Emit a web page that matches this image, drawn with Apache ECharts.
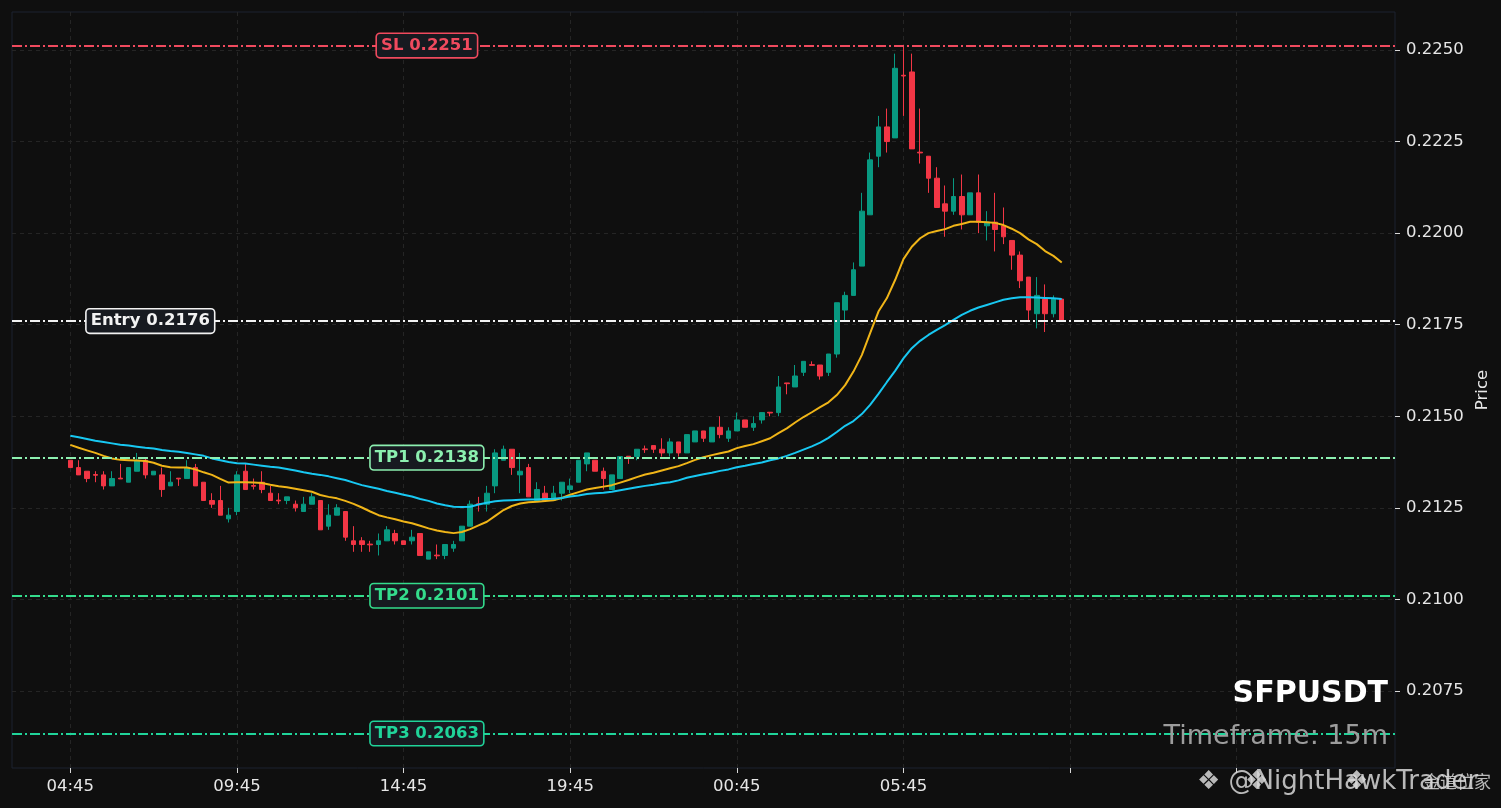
<!DOCTYPE html>
<html>
<head>
<meta charset="utf-8">
<title>SFPUSDT 15m</title>
<script src="https://cdn.jsdelivr.net/npm/echarts@6/dist/echarts.min.js"></script>
<style>
  html, body { margin: 0; padding: 0; background: #0f0f0f; }
  #chart { width: 1501px; height: 808px; }
</style>
</head>
<body>
<div id="chart"></div>
<script>
// ---------------- data ----------------
var symbol = 'SFPUSDT';
var timeframe = '15m';
var startTime = '04:45';          // time of the first candle
var tickLabels = ['04:45', '09:45', '14:45', '19:45', '00:45', '05:45'];
var priceTicks = [0.2075, 0.2100, 0.2125, 0.2150, 0.2175, 0.2200, 0.2225, 0.2250];

// [open, close, low, high]
var candles = [
  [0.2138,0.2136,0.2136,0.2138],[0.2136,0.2134,0.2134,0.2138],[0.2135,0.2133,0.2132,0.2135],[0.21341,0.21339,0.2132,0.2135],
  [0.2134,0.2131,0.2130,0.2135],[0.2131,0.2133,0.2131,0.2135],[0.21331,0.21329,0.21329,0.2137],[0.2132,0.2136,0.2132,0.2136],
  [0.2135,0.2138,0.2135,0.2140],[0.2138,0.2134,0.2133,0.21385],[0.2134,0.2135,0.2134,0.2135],[0.2134,0.2130,0.2128,0.2136],
  [0.2131,0.2132,0.2131,0.2135],[0.21331,0.21329,0.2131,0.21331],[0.2133,0.2136,0.2133,0.2138],[0.2136,0.2131,0.2131,0.2137],
  [0.2132,0.2127,0.2127,0.2132],[0.2127,0.2126,0.2125,0.2129],[0.2127,0.2123,0.2123,0.2131],[0.2122,0.2123,0.2121,0.2125],
  [0.2124,0.2134,0.2123,0.2135],[0.2135,0.2130,0.2130,0.2137],[0.21311,0.21309,0.2130,0.2133],[0.2132,0.2130,0.2129,0.2135],
  [0.2129,0.2127,0.2127,0.2131],[0.21271,0.21269,0.2126,0.2129],[0.2127,0.2128,0.2126,0.2128],[0.2126,0.2125,0.2124,0.2127],
  [0.2124,0.2126,0.2124,0.2128],[0.2126,0.2128,0.2126,0.2129],[0.2127,0.2119,0.2119,0.2127],[0.2120,0.2123,0.2119,0.2126],
  [0.2123,0.2125,0.2123,0.2126],[0.2124,0.2117,0.2116,0.2124],[0.2116,0.2115,0.2113,0.2120],[0.2116,0.2115,0.2113,0.2117],
  [0.21151,0.21149,0.2113,0.2116],[0.2115,0.2116,0.2112,0.2118],[0.2116,0.2119,0.2116,0.2120],[0.2118,0.2116,0.2115,0.2119],
  [0.2116,0.2115,0.2115,0.2116],[0.2116,0.2117,0.2115,0.2119],[0.2118,0.2112,0.2112,0.2118],[0.2111,0.2113,0.2111,0.2113],
  [0.21121,0.21119,0.2111,0.2115],[0.2112,0.2115,0.2111,0.2115],[0.2114,0.2115,0.2113,0.2116],[0.2116,0.2120,0.2116,0.2120],
  [0.2120,0.2126,0.2120,0.2127],[0.21261,0.21259,0.2124,0.2128],[0.2126,0.2129,0.2124,0.2131],[0.2131,0.2140,0.2129,0.2141],
  [0.2138,0.2141,0.2138,0.2142],[0.2141,0.2136,0.2134,0.2141],[0.2134,0.2135,0.2129,0.2140],[0.2136,0.2128,0.2128,0.2137],
  [0.2127,0.2130,0.2127,0.2132],[0.2129,0.2127,0.2127,0.2131],[0.2127,0.2129,0.2127,0.2131],[0.2129,0.2132,0.2127,0.2132],
  [0.2130,0.2131,0.2129,0.2133],[0.2132,0.2138,0.2132,0.2138],[0.2137,0.2140,0.2135,0.2140],[0.2138,0.2135,0.2135,0.2138],
  [0.2135,0.2133,0.2130,0.2136],[0.2130,0.2134,0.2130,0.2134],[0.2133,0.2139,0.2133,0.2139],[0.21391,0.21389,0.2137,0.21391],
  [0.2139,0.2141,0.2138,0.2141],[0.21411,0.21409,0.2140,0.2142],[0.2142,0.2141,0.2140,0.2142],[0.2141,0.2140,0.2139,0.2144],
  [0.2140,0.2143,0.2139,0.2144],[0.2143,0.2140,0.2139,0.2143],[0.2140,0.2145,0.2140,0.2145],[0.2143,0.2146,0.2143,0.2146],
  [0.2146,0.2144,0.2143,0.2146],[0.2143,0.2147,0.2143,0.2147],[0.2147,0.2145,0.2144,0.2150],[0.2144,0.2146,0.2143,0.2147],
  [0.2146,0.2149,0.2146,0.2151],[0.2149,0.2147,0.2147,0.2149],[0.2147,0.2148,0.2146,0.2150],[0.2149,0.2151,0.2148,0.2151],
  [0.21511,0.21509,0.2150,0.21511],[0.2151,0.2158,0.2150,0.2161],[0.21591,0.21589,0.2156,0.21591],[0.2158,0.2161,0.2158,0.2164],
  [0.2162,0.2165,0.2161,0.2165],[0.21641,0.21639,0.21639,0.2165],[0.2164,0.2161,0.2160,0.2164],[0.2162,0.2167,0.2161,0.2167],
  [0.2167,0.2181,0.2166,0.2181],[0.2179,0.2183,0.2176,0.2184],[0.2183,0.2190,0.2183,0.2192],[0.2191,0.2206,0.2191,0.2211],
  [0.2205,0.2220,0.2205,0.2222],[0.2221,0.2229,0.2218,0.2232],[0.2229,0.2225,0.2222,0.2234],[0.2226,0.2245,0.2226,0.2249],
  [0.22431,0.22429,0.2232,0.2251],[0.2244,0.2223,0.2223,0.2249],[0.22221,0.22219,0.2219,0.2234],[0.2221,0.2215,0.2211,0.2221],
  [0.2215,0.2207,0.2207,0.2218],[0.2208,0.2206,0.2199,0.2213],[0.2206,0.2210,0.2205,0.2215],[0.2210,0.2205,0.2201,0.2216],
  [0.2205,0.2211,0.2205,0.2211],[0.2211,0.2203,0.2200,0.2216],[0.2202,0.2203,0.2198,0.2206],[0.2203,0.2201,0.2195,0.2211],
  [0.2202,0.2199,0.2197,0.2207],[0.2198,0.2194,0.2190,0.2198],[0.2194,0.2187,0.2185,0.2195],[0.2188,0.2179,0.2176,0.2188],
  [0.2178,0.2183,0.2174,0.2188],[0.2182,0.2178,0.2173,0.2186],[0.2178,0.2182,0.2177,0.2183],[0.2182,0.2176,0.2176,0.2182]
];

// fast average (yellow)
var emaFast = [
  0.21422,0.21414,0.21407,0.21400,0.21392,0.21385,0.21381,0.21380,0.21379,0.21378,
  0.21373,0.21365,0.21361,0.21360,0.21360,0.21355,0.21347,0.21340,0.21329,0.21319,
  0.21320,0.21320,0.21319,0.21318,0.21313,0.21309,0.21306,0.21302,0.21298,0.21294,
  0.21285,0.21280,0.21276,0.21269,0.21261,0.21251,0.21240,0.21230,0.21224,0.21219,
  0.21213,0.21208,0.21201,0.21194,0.21188,0.21184,0.21181,0.21184,0.21192,0.21202,
  0.21212,0.21228,0.21244,0.21255,0.21262,0.21265,0.21267,0.21269,0.21271,0.21277,
  0.21286,0.21293,0.21300,0.21304,0.21308,0.21312,0.21319,0.21326,0.21334,0.21341,
  0.21346,0.21352,0.21358,0.21364,0.21372,0.21381,0.21388,0.21394,0.21399,0.21404,
  0.21413,0.21419,0.21424,0.21432,0.21440,0.21454,0.21467,0.21483,0.21498,0.21511,
  0.21525,0.21538,0.21558,0.21585,0.21622,0.21667,0.21727,0.21786,0.21822,0.21872,
  0.21929,0.21963,0.21986,0.22000,0.22006,0.22011,0.22020,0.22025,0.22031,0.22031,
  0.22030,0.22028,0.22022,0.22012,0.22000,0.21983,0.21970,0.21951,0.21938,0.21920
];

// slow average (cyan)
var emaSlow = [
  0.21447,0.21443,0.21438,0.21433,0.21430,0.21426,0.21422,0.21420,0.21417,0.21414,
  0.21412,0.21408,0.21405,0.21403,0.21400,0.21396,0.21392,0.21385,0.21380,0.21375,
  0.21372,0.21371,0.21368,0.21365,0.21362,0.21360,0.21356,0.21352,0.21347,0.21343,
  0.21340,0.21336,0.21331,0.21326,0.21319,0.21312,0.21307,0.21302,0.21296,0.21291,
  0.21286,0.21281,0.21274,0.21269,0.21262,0.21257,0.21253,0.21252,0.21253,0.21259,
  0.21264,0.21268,0.21270,0.21271,0.21272,0.21273,0.21273,0.21274,0.21275,0.21277,
  0.21281,0.21284,0.21288,0.21290,0.21291,0.21294,0.21298,0.21302,0.21306,0.21310,
  0.21313,0.21317,0.21320,0.21325,0.21332,0.21337,0.21342,0.21346,0.21351,0.21355,
  0.21361,0.21365,0.21370,0.21374,0.21380,0.21385,0.21392,0.21400,0.21409,0.21418,
  0.21428,0.21441,0.21457,0.21474,0.21487,0.21506,0.21531,0.21561,0.21593,0.21624,
  0.21658,0.21686,0.21706,0.21722,0.21736,0.21749,0.21763,0.21777,0.21788,0.21797,
  0.21804,0.21811,0.21818,0.21822,0.21825,0.21825,0.21824,0.21823,0.21822,0.21820
];

var levelTexts = ['SL 0.2251', 'Entry 0.2176', 'TP1 0.2138', 'TP2 0.2101', 'TP3 0.2063'];
var levelPrices = [0.22512, 0.21760, 0.21387, 0.21010, 0.20634];

// ---------------- layout / style ----------------
var PAD_LEFT = 7, PAD_RIGHT = 40;
var levelColors = ['#f04a5e', '#f2f2f2', '#8cf0b0', '#34dc8c', '#20d49a'];
var levelLabelX = [0.3, 0.1, 0.3, 0.3, 0.3];   // fraction of the plot width
var FONT = 'DejaVu Sans';
var AXIS_FONT = 16.5;
var WM_FILL = 'rgba(215,215,215,0.85)';

function timeAt(i) {
  var p = startTime.split(':');
  var m = ((+p[0]) * 60 + (+p[1]) + 15 * i) % 1440;
  if (m < 0) m += 1440;
  var h = Math.floor(m / 60), mm = m % 60;
  return (h < 10 ? '0' : '') + h + ':' + (mm < 10 ? '0' : '') + mm;
}

var cats = [];
for (var k = -PAD_LEFT; k < candles.length + PAD_RIGHT; k++) cats.push(timeAt(k));

function isTick(index) {
  var i = index - PAD_LEFT;
  return i >= 0 && i % 20 === 0;
}
function isLabel(index) {
  var i = index - PAD_LEFT;
  return isTick(index) && i < candles.length && tickLabels.indexOf(cats[index]) >= 0;
}

var candleData = candles.map(function (c, i) { return [i + PAD_LEFT, c[0], c[1], c[2], c[3]]; });
var fastData = emaFast.map(function (v, i) { return [i + PAD_LEFT, v]; });
var slowData = emaSlow.map(function (v, i) { return [i + PAD_LEFT, v]; });

var chart = echarts.init(document.getElementById('chart'), null, { renderer: 'canvas' });

chart.setOption({
  backgroundColor: '#0f0f0f',
  animation: false,
  textStyle: { fontFamily: FONT },
  grid: {
    left: 12, right: 106, top: 12, bottom: 40,
    show: true, borderColor: '#1d2230', borderWidth: 1, backgroundColor: 'transparent'
  },
  xAxis: [{
    type: 'category',
    data: cats,
    boundaryGap: false,
    axisLine: { show: false },
    axisTick: { show: true, interval: isTick, length: 5, lineStyle: { color: '#d8d8d8', width: 1 } },
    axisLabel: {
      interval: isLabel, color: '#e6e6e6', fontSize: AXIS_FONT, fontFamily: FONT, margin: 10
    },
    splitLine: { show: true, interval: isTick, lineStyle: { color: '#252525', type: [4, 4], width: 1 } }
  }, {
    type: 'value', min: 0, max: 1, show: false
  }],
  yAxis: {
    type: 'value',
    position: 'right',
    min: 0.205398,
    max: 0.226037,
    scale: true,
    name: 'Price',
    nameLocation: 'middle',
    nameRotate: 90,
    nameGap: 76,
    nameTextStyle: { color: '#e6e6e6', fontSize: AXIS_FONT, fontFamily: FONT },
    axisLine: { show: false, onZero: false },
    axisTick: { show: true, length: 5, customValues: priceTicks, lineStyle: { color: '#d8d8d8' } },
    axisLabel: {
      customValues: priceTicks, color: '#e6e6e6', fontSize: AXIS_FONT, fontFamily: FONT, margin: 11,
      formatter: function (v) { return v.toFixed(4); }
    },
    splitLine: { show: true, lineStyle: { color: '#252525', type: [4, 4], width: 1 } }
  },
  series: [{
    type: 'candlestick',
    data: candleData,
    encode: { x: 0, y: [1, 2, 3, 4] },
    barWidth: 5,
    itemStyle: {
      color: '#089981', color0: '#f23645',
      borderColor: '#089981', borderColor0: '#f23645', borderWidth: 1
    },
    markLine: {
      silent: true,
      precision: 5,
      symbol: ['none', 'none'],
      label: { show: false },
      data: levelPrices.map(function (v, j) {
        return {
          yAxis: v,
          lineStyle: { color: levelColors[j], width: 1.8, type: [10, 3, 2, 3], opacity: 1 }
        };
      })
    },
    z: 3
  }, {
    type: 'line', data: fastData, showSymbol: false, smooth: false,
    lineStyle: { color: '#f0b518', width: 2 }, z: 4
  }, {
    type: 'line', data: slowData, showSymbol: false, smooth: false,
    lineStyle: { color: '#18c8f2', width: 2 }, z: 4
  }, {
    type: 'scatter',
    xAxisIndex: 1,
    symbolSize: 0.5,
    itemStyle: { color: '#171a20', opacity: 1 },
    silent: true,
    z: 6,
    data: levelPrices.map(function (v, j) {
      return {
        value: [levelLabelX[j], v],
        label: {
          show: true,
          opacity: 1,
          position: 'inside',
          formatter: levelTexts[j],
          color: levelColors[j],
          fontFamily: FONT,
          fontWeight: 'bold',
          fontSize: 16.5,
          lineHeight: 18,
          backgroundColor: '#171a20',
          borderColor: levelColors[j],
          borderWidth: 1.6,
          borderRadius: 3,
          padding: [3, 4, 2, 4]
        }
      };
    })
  }],
  graphic: [
    { type: 'text', x: 1388, y: 694, z: 10,
      style: { text: symbol, align: 'right', verticalAlign: 'middle',
               font: 'bold 30px "DejaVu Sans"', fill: '#ffffff' } },
    { type: 'text', x: 1388, y: 737, z: 10,
      style: { text: 'Timeframe: ' + timeframe, align: 'right', verticalAlign: 'middle',
               font: '27px "DejaVu Sans"', fill: '#9c9c9c' } },
    { type: 'text', x: 1197, y: 782, z: 10,
      style: { text: '\u2756 @NightHawkTrader', align: 'left', verticalAlign: 'middle',
               font: '26px "DejaVu Sans"', fill: WM_FILL } },
    { type: 'text', x: 1245, y: 782, z: 10,
      style: { text: '\u2756', align: 'left', verticalAlign: 'middle',
               font: '26px "DejaVu Sans"', fill: WM_FILL } },
    { type: 'text', x: 1345, y: 782, z: 10,
      style: { text: '\u2756', align: 'left', verticalAlign: 'middle',
               font: '26px "DejaVu Sans"', fill: WM_FILL } },
    { type: 'text', x: 1423, y: 782, z: 10,
      style: { text: '金道位家', align: 'left', verticalAlign: 'middle',
               font: '17px "Noto Sans CJK SC"', fill: WM_FILL } }
  ]
});
</script>
</body>
</html>
